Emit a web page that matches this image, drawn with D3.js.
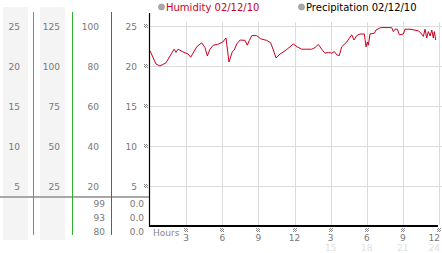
<!DOCTYPE html>
<html><head><meta charset="utf-8">
<script src="https://cdn.jsdelivr.net/npm/d3@7"></script>
<style>
html,body{margin:0;padding:0;background:#fff;}
svg{display:block;font-family:"DejaVu Sans",Verdana,sans-serif;}
</style></head>
<body><svg id="c" width="442" height="253"></svg>
<script>
// ---- data ----
const hours = [0,0.5,0.83,1.33,1.8,2.0,2.16,2.33,2.82,3.16,3.38,3.88,4.29,4.57,4.76,4.98,5.26,5.62,6.04,6.31,6.56,6.84,7.0,7.2,7.48,7.89,8.08,8.25,8.45,8.86,9.19,9.69,10.02,10.24,10.47,10.8,11.21,11.63,11.9,12.23,12.6,13.43,13.7,13.98,14.26,14.53,14.81,15.09,15.31,15.51,15.72,15.92,16.34,16.75,16.94,17.17,17.44,17.8,17.94,18.05,18.13,18.27,18.63,18.77,19.16,20.07,20.21,20.35,20.54,20.71,21.04,21.18,21.59,22.28,22.51,22.7,22.84,22.98,23.11,23.26,23.4,23.53,23.61,23.73];
const humidity = [21.9,20.25,20.0,20.4,21.6,22.1,21.7,22.1,21.7,21.5,21.1,22.4,22.9,22.3,21.25,22.1,22.6,22.7,23.0,23.5,20.5,21.8,22.0,22.75,23.25,23.2,22.6,23.2,23.8,23.8,23.4,23.2,22.9,22.0,21.0,21.5,21.9,22.4,22.75,22.4,22.1,22.1,22.3,22.7,22.1,21.6,21.7,21.6,21.8,21.4,21.3,22.4,23.0,23.9,23.25,23.8,24.0,24.0,22.4,23.0,22.6,24.0,24.1,24.5,24.8,24.8,24.3,24.6,24.6,23.9,24.0,24.6,24.6,24.4,24.1,23.7,24.6,23.5,24.3,23.75,24.5,23.5,24.3,23.25];
const yTicks = [25,20,15,10,5];
const col1Labels = ["25","20","15","10","5"];
const col2Labels = ["125","100","75","50","25"];
const col3Labels = ["100","80","60","40","20"];
const col4Labels = ["25","20","15","10","5"];
const col3Extra = ["99","93","80"];
const col4Extra = ["0.0","0.0","0.0"];
const xTickHours = [3,6,9,12,15,18,21,24];
const xTickLabels = ["3","6","9","12","3","6","9","12"];
const xTickLabels24 = ["","","","","15","18","21","24"];
const legendItems = ["Humidity 02/12/10","Precipitation 02/12/10"];

// ---- chart ----
const svg = d3.select("#c");
const defs = svg.append("defs");
const pat = defs.append("pattern").attr("id","chk").attr("width",2).attr("height",2).attr("patternUnits","userSpaceOnUse");
pat.append("rect").attr("x",0).attr("y",0).attr("width",1).attr("height",1).attr("fill","#888");
pat.append("rect").attr("x",1).attr("y",1).attr("width",1).attr("height",1).attr("fill","#888");

const x = d3.scaleLinear().domain([0,24]).range([150,439]);
const y = d3.scaleLinear().domain([0,25]).range([226,26]);

// left panel backgrounds
svg.append("rect").attr("x",3).attr("y",7).attr("width",25).attr("height",233).attr("fill","#f4f4f4");
svg.append("rect").attr("x",40).attr("y",7).attr("width",25).attr("height",233).attr("fill","#f4f4f4");

// separator line
svg.append("line").attr("x1",0).attr("x2",149).attr("y1",197).attr("y2",197).attr("stroke","#a8a8a8").attr("stroke-width",2);

// colored axis lines
[[33,"#1ea5d0"],[72,"#2eb02e"],[111,"#d03030"]].forEach(([lx,c])=>{
  svg.append("rect").attr("x",lx).attr("y",12).attr("width",1).attr("height",223).attr("fill",c);
});

function col(labels, xr){
  svg.append("g").selectAll("text").data(labels).join("text")
    .attr("x",xr).attr("y",(d,i)=>y(yTicks[i])+3.5)
    .attr("text-anchor","end").attr("fill","#777").attr("font-size","9px").text(d=>d);
}
col(col1Labels,20); col(col2Labels,60); col(col3Labels,99); col(col4Labels,137);
svg.append("g").selectAll("text").data(col3Extra).join("text")
  .attr("x",105).attr("y",(d,i)=>207+i*14).attr("text-anchor","end").attr("fill","#777").attr("font-size","9px").text(d=>d);
svg.append("g").selectAll("text").data(col4Extra).join("text")
  .attr("x",144).attr("y",(d,i)=>207+i*14).attr("text-anchor","end").attr("fill","#777").attr("font-size","9px").text(d=>d);

// gridlines
svg.append("g").selectAll("line").data(yTicks).join("line")
  .attr("x1",150).attr("x2",442).attr("y1",d=>Math.round(y(d))+0.5).attr("y2",d=>Math.round(y(d))+0.5)
  .attr("stroke","#dcdcdc");
svg.append("g").selectAll("line").data(xTickHours).join("line")
  .attr("x1",d=>Math.round(x(d))+0.5).attr("x2",d=>Math.round(x(d))+0.5).attr("y1",22).attr("y2",225)
  .attr("stroke","#dcdcdc");

// tick marks (checkered)
svg.append("g").selectAll("rect").data(yTicks).join("rect")
  .attr("x",144).attr("y",d=>Math.round(y(d))-2).attr("width",4).attr("height",4).attr("fill","url(#chk)");
svg.append("g").selectAll("rect").data(xTickHours).join("rect")
  .attr("x",d=>Math.round(x(d))-2).attr("y",228).attr("width",4).attr("height",4).attr("fill","url(#chk)");

// axes lines
svg.append("line").attr("x1",149.5).attr("x2",149.5).attr("y1",13).attr("y2",227).attr("stroke","#000").attr("stroke-width",1.2);
svg.append("line").attr("x1",149).attr("x2",438).attr("y1",226).attr("y2",226).attr("stroke","#000").attr("stroke-width",2);

// x labels
svg.append("text").attr("x",153).attr("y",236).attr("fill","#888").attr("font-size","9px").text("Hours");
svg.append("g").selectAll("text").data(xTickLabels).join("text")
  .attr("x",(d,i)=>i===xTickLabels.length-1?440:x(xTickHours[i])).attr("y",241)
  .attr("text-anchor",(d,i)=>i===xTickLabels.length-1?"end":"middle")
  .attr("fill","#777").attr("font-size","9px").text(d=>d);
svg.append("g").selectAll("text").data(xTickLabels24).join("text")
  .attr("x",(d,i)=>i===xTickLabels24.length-1?440:x(xTickHours[i])).attr("y",251)
  .attr("text-anchor",(d,i)=>i===xTickLabels24.length-1?"end":"middle")
  .attr("fill","#e0e0e0").attr("font-size","9px").text(d=>d);

// line
const line = d3.line().x((d,i)=>x(hours[i])).y(d=>y(d));
svg.append("path").datum(humidity).attr("d",line).attr("fill","none").attr("stroke","#cc0022").attr("stroke-width",1);

// legend
const lg = [[161.5,"#cc0022"],[301.5,"#000"]];
legendItems.forEach((t,i)=>{
  svg.append("circle").attr("cx",lg[i][0]).attr("cy",7).attr("r",3).attr("fill","#aaa").attr("stroke","#888").attr("stroke-width",0.6);
  svg.append("text").attr("x",lg[i][0]+4.5).attr("y",11).attr("fill",lg[i][1]).attr("font-size","10px").text(t);
});
</script></body></html>
